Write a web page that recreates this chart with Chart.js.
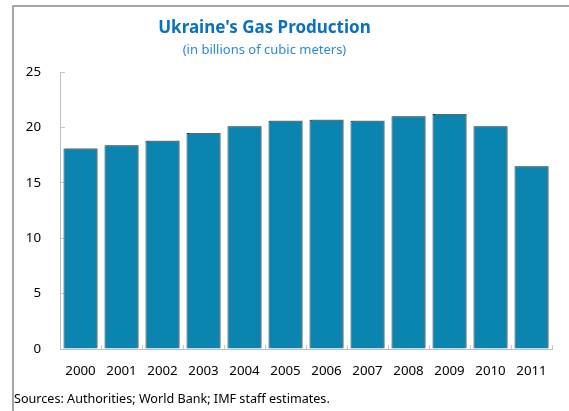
<!DOCTYPE html>
<html>
<head>
<meta charset="utf-8">
<script src="https://cdn.jsdelivr.net/npm/chart.js@4"></script>
<style>
  html, body { margin: 0; padding: 0; background: #fff; }
  #wrap { position: relative; width: 569px; height: 411px; overflow: hidden; }
  #frame { position: absolute; left: 12px; top: 5px; right: -2px; bottom: -2px; border-left: 2px solid #a6a6a6; border-top: 2px solid #a6a6a6; box-sizing: border-box; pointer-events: none; }
  .txt { position: absolute; font-family: "Noto Sans", "Open Sans", sans-serif; white-space: nowrap; }
  #title { left: 0; width: 529px; top: 16px; text-align: center; font-size: 17px; line-height: 22px; font-weight: bold; color: #0a70c0; }
  #subtitle { left: 0; width: 529px; top: 40px; text-align: center; font-size: 13px; line-height: 18px; color: #2b8ad6; }
  #source { left: 14px; top: 390px; font-size: 12.6px; line-height: 18px; color: #000; }
  canvas { position: absolute; left: 0; top: 0; }
</style>
</head>
<body>
<div id="wrap">
  <canvas id="c" width="569" height="411"></canvas>
  <div id="frame"></div>
  <div class="txt" id="title"></div>
  <div class="txt" id="subtitle"></div>
  <div class="txt" id="source"></div>
</div>
<script>
const years = ["2000","2001","2002","2003","2004","2005","2006","2007","2008","2009","2010","2011"];
const gasProduction = [18.1, 18.4, 18.8, 19.5, 20.1, 20.6, 20.7, 20.6, 21.0, 21.2, 20.1, 16.5];
const yTicks = [0, 5, 10, 15, 20, 25];
const titleText = "Ukraine's Gas Production";
const subtitleText = "(in billions of cubic meters)";
const sourceText = "Sources: Authorities; World Bank; IMF staff estimates.";

document.getElementById('title').textContent = titleText;
document.getElementById('subtitle').textContent = subtitleText;
document.getElementById('source').textContent = sourceText;

const FONT = '"Noto Sans", "Open Sans", sans-serif';

const shadowPlugin = {
  id: 'barShadow',
  beforeDatasetsDraw(chart) {
    const ctx = chart.ctx;
    ctx.save();
    ctx.shadowColor = 'rgba(120,120,120,0.75)';
    ctx.shadowOffsetX = 2;
    ctx.shadowOffsetY = -1;
    ctx.shadowBlur = 0;
  },
  afterDatasetsDraw(chart) {
    chart.ctx.restore();
  }
};

new Chart(document.getElementById('c'), {
  type: 'bar',
  data: {
    labels: years,
    datasets: [{
      data: gasProduction,
      backgroundColor: '#0b84b0',
      borderColor: '#0f3a50',
      borderWidth: 1,
      barPercentage: 0.83,
      categoryPercentage: 1.0
    }]
  },
  options: {
    responsive: false,
    animation: false,
    devicePixelRatio: 1,
    layout: { padding: { left: 0, right: 17, top: 72, bottom: 0 } },
    plugins: {
      legend: { display: false },
      tooltip: { enabled: false },
      title: { display: false },
      subtitle: { display: false }
    },
    scales: {
      x: {
        grid: {
          display: true,
          drawOnChartArea: false,
          drawTicks: true,
          tickLength: -4,
          color: '#c8c8c8',
          offset: true
        },
        border: { display: true, color: '#bfbfbf', width: 1 },
        ticks: {
          color: '#000',
          font: { family: FONT, size: 13.3 },
          padding: 18,
          maxRotation: 0,
          autoSkip: false
        },
        afterFit(s) { s.height = 62; }
      },
      y: {
        min: 0,
        max: 25,
        afterBuildTicks(s) { s.ticks = yTicks.map(v => ({ value: v })); },
        grid: {
          display: true,
          drawOnChartArea: false,
          drawTicks: true,
          tickLength: -5,
          color: '#c8c8c8'
        },
        border: { display: true, color: '#bfbfbf', width: 1 },
        ticks: {
          color: '#000',
          font: { family: FONT, size: 13.3 },
          padding: 24
        },
        afterFit(s) { s.width = 60; }
      }
    }
  },
  plugins: [shadowPlugin]
});
</script>
</body>
</html>
